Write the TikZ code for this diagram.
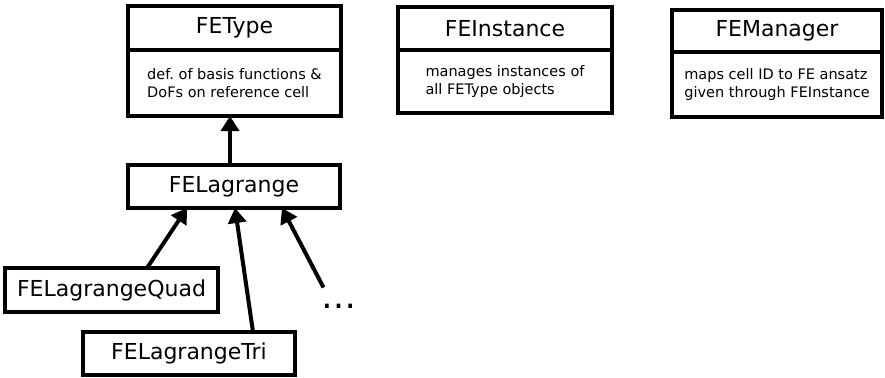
\documentclass[tikz,border=0pt]{standalone}
\usepackage{fontspec}
\setmainfont{DejaVu Sans}
\usetikzlibrary{positioning,arrows.meta}

\begin{document}
\begin{tikzpicture}[x=1pt,y=-1pt,
  cls/.style={draw,line width=4pt,outer sep=0pt,inner sep=0pt},
  head/.style={cls,minimum width=213pt,minimum height=43pt,font=\fontsize{22}{24}\selectfont},
  body/.style={cls,minimum width=213pt,align=left,font=\fontsize{14.5}{17.5}\selectfont},
  inherit/.style={line width=4pt,-{Triangle[width=18pt,length=15pt]}}]
\useasboundingbox (0,0) rectangle (885,377);
% classes with a description
\node[head,minimum height=44pt] (fetype) at (234.5,28) {FEType};
\node[body,minimum height=66pt,below=0pt of fetype] (fetypetxt) {def.\ of basis functions \&\\DoFs on reference cell};
\node[head,minimum width=214pt] (feinst) at (505,28.5) {FEInstance};
\node[body,minimum width=214pt,minimum height=63pt,below=0pt of feinst] (feinsttxt) {manages instances of\\all FEType objects};
\node[head,minimum width=210pt,minimum height=42pt] (femgr) at (777,31) {FEManager};
\node[body,minimum width=210pt,minimum height=65pt,below=0pt of femgr] (femgrtxt) {maps cell ID to FE ansatz\\given through FEInstance};
% derived classes
\node[head,minimum width=212pt] (felag) at (234,186.5) {FELagrange};
\node[head,minimum height=44pt] (quad) at (111.5,290) {FELagrangeQuad};
\node[head,minimum width=212pt] (tri) at (189,353.5) {FELagrangeTri};
\node[font=\fontsize{35}{38}\selectfont,inner sep=0pt] (dots) at (338.5,306.5) {\ldots};
\draw[inherit] ([xshift=-4pt]felag.north) -- ([xshift=-4pt]felag.north |- fetypetxt.south);
\foreach \from/\sx/\tx in {quad/35.5/-47, tri/64/1}
  \draw[inherit] ([xshift=\sx pt]\from.north) -- ([xshift=\tx pt]felag.south);
\draw[inherit] ([xshift=-15pt,yshift=19pt]dots.center) -- ([xshift=48pt]felag.south);
\end{tikzpicture}
\end{document}
